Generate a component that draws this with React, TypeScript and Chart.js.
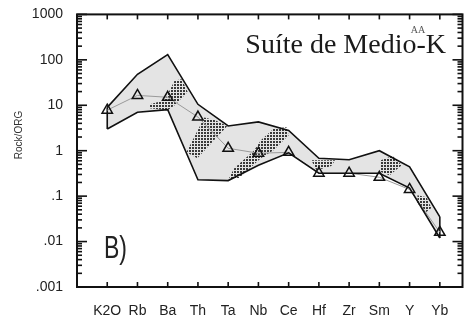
import React, { useEffect, useRef } from 'react';
import { Chart, registerables } from 'chart.js';

Chart.register(...registerables);

const categories = ['K2O', 'Rb', 'Ba', 'Th', 'Ta', 'Nb', 'Ce', 'Hf', 'Zr', 'Sm', 'Y', 'Yb'];
const sampleValues = [7.8, 16.5, 15, 5.5, 1.13, 0.88, 0.92, 0.32, 0.32, 0.26, 0.14, 0.016];
const upperEnvelope = [9, 48, 130, 10.5, 3.5, 4.3, 2.8, 0.68, 0.63, 1.0, 0.44, 0.035];
const lowerEnvelope = [3.0, 7, 8, 0.23, 0.22, 0.48, 0.9, 0.32, 0.32, 0.32, 0.15, 0.012];
const yTickLabels = ['.001', '.01', '.1', '1', '10', '100', '1000'];

// stippled zones, as [category position, value] outlines
const stipplePatches: [number, number][][] = [
  [[1.41, 8.6], [1.41, 10.5], [1.9, 12.9], [2.23, 35], [2.46, 37.5], [2.66, 19.6], [2.23, 10], [2.0, 7.8]],
  [[3.21, 5.4], [3.57, 4.7], [3.97, 3.5], [2.98, 0.68], [2.62, 0.93]],
  [[4.03, 0.25], [4.36, 0.25], [5.08, 0.68], [5.51, 1.03], [6.0, 2.2], [5.93, 3.3], [5.51, 3.1], [5.08, 1.7], [4.85, 1.0], [4.2, 0.41]],
  [[6.75, 0.62], [7.54, 0.62], [7.41, 0.46], [6.92, 0.37]],
  [[9.05, 0.62], [9.44, 0.76], [9.74, 0.48], [9.34, 0.29], [9.05, 0.34]],
  [[10.26, 0.105], [10.56, 0.095], [10.72, 0.055], [10.52, 0.043], [10.26, 0.071]],
];

const titleText = 'Suíte de Medio-K';
const superText = 'AA';
const panelLabel = 'B)';
const yAxisTitle = 'Rock/ORG';

export default function App() {
  const ref = useRef<HTMLCanvasElement>(null);

  useEffect(() => {
    document.body.style.margin = '0';
    const canvas = ref.current!;
    const ctx0 = canvas.getContext('2d')!;
    const tile = document.createElement('canvas');
    tile.width = 3;
    tile.height = 3;
    const tg = tile.getContext('2d')!;
    tg.fillStyle = '#3a3a3a';
    tg.fillRect(0, 0, 2, 2);
    const pattern = ctx0.createPattern(tile, 'repeat');

    const xy = (arr: number[]) => arr.map((v, i) => ({ x: i, y: v }));

    const decor = {
      id: 'decor',
      beforeDatasetsDraw(chart: any) {
        const { ctx, chartArea, scales } = chart;
        const xs = scales.x;
        const ys = scales.y;
        ctx.save();
        ctx.beginPath();
        ctx.rect(chartArea.left, chartArea.top, chartArea.right - chartArea.left, chartArea.bottom - chartArea.top);
        ctx.clip();
        ctx.fillStyle = pattern;
        for (const patch of stipplePatches) {
          ctx.beginPath();
          patch.forEach(([x, y], i) => {
            const px = xs.getPixelForValue(x);
            const py = ys.getPixelForValue(y);
            if (i === 0) ctx.moveTo(px, py);
            else ctx.lineTo(px, py);
          });
          ctx.closePath();
          ctx.fill();
        }
        ctx.strokeStyle = '#111';
        ctx.lineWidth = 1.6;
        const last = categories.length - 1;
        for (const i of [0, last]) {
          const px = xs.getPixelForValue(i);
          ctx.beginPath();
          ctx.moveTo(px, ys.getPixelForValue(upperEnvelope[i]));
          ctx.lineTo(px, ys.getPixelForValue(lowerEnvelope[i]));
          ctx.stroke();
        }
        ctx.restore();
      },
      afterDraw(chart: any) {
        const { ctx, chartArea, scales } = chart;
        const { left, right, top, bottom } = chartArea;
        const xs = scales.x;
        const ys = scales.y;
        ctx.save();
        ctx.strokeStyle = '#111';
        ctx.lineWidth = 2;
        ctx.strokeRect(left, top, right - left, bottom - top);
        ctx.lineWidth = 1.6;
        ctx.strokeStyle = '#111';
        const segs: number[][] = [];
        const yVals: number[] = [];
        for (let e = -3; e <= 3; e++) {
          yVals.push(Math.pow(10, e));
          if (e < 3) for (let m = 2; m <= 9; m++) yVals.push(m * Math.pow(10, e));
        }
        for (const v of yVals) {
          const py = ys.getPixelForValue(v);
          const e = Math.log10(v);
          const major = Math.abs(e - Math.round(e)) < 1e-6;
          const len = major ? 10 : 5;
          segs.push([left, py, left + len, py]);
          segs.push([right, py, right - len, py]);
        }
        for (let i = 0; i < categories.length; i++) {
          const px = xs.getPixelForValue(i);
          segs.push([px, top, px, top + 5]);
          segs.push([px, bottom, px, bottom - 5]);
        }
        for (const [x1, y1, x2, y2] of segs) {
          ctx.beginPath();
          ctx.moveTo(x1, y1);
          ctx.lineTo(x2, y2);
          ctx.stroke();
        }

        ctx.save();
        ctx.translate(19, 135);
        ctx.rotate(-Math.PI / 2);
        ctx.fillStyle = '#333';
        ctx.font = '10px "Liberation Sans"';
        ctx.textAlign = 'center';
        ctx.textBaseline = 'middle';
        ctx.fillText(yAxisTitle, 0, 0);
        ctx.restore();

        ctx.save();
        ctx.translate(104, 258);
        ctx.scale(0.72, 1);
        ctx.fillStyle = '#222';
        ctx.font = '32px "Liberation Sans"';
        ctx.textAlign = 'left';
        ctx.textBaseline = 'alphabetic';
        ctx.fillText(panelLabel, 0, 0);
        ctx.restore();

        ctx.fillStyle = '#1a1a1a';
        ctx.font = '28px "Liberation Serif"';
        ctx.textAlign = 'right';
        ctx.textBaseline = 'alphabetic';
        ctx.fillText(titleText, 446, 53);
        ctx.fillStyle = '#555';
        ctx.font = '10px "Liberation Serif"';
        ctx.textAlign = 'center';
        ctx.fillText(superText, 418, 33);
        ctx.restore();
      },
    };

    const chart = new Chart(canvas, {
      type: 'line',
      data: {
        datasets: [
          {
            data: xy(upperEnvelope),
            borderColor: '#111',
            borderWidth: 1.6,
            pointRadius: 0,
            fill: '+1',
            backgroundColor: '#e4e4e4',
          },
          {
            data: xy(lowerEnvelope),
            borderColor: '#111',
            borderWidth: 1.6,
            pointRadius: 0,
            fill: false,
          },
          {
            data: xy(sampleValues),
            borderColor: '#9a9a9a',
            borderWidth: 1,
            pointStyle: 'triangle',
            pointRadius: 6,
            pointBorderColor: '#111',
            pointBorderWidth: 1.5,
            pointBackgroundColor: 'rgba(0,0,0,0)',
            fill: false,
          },
        ],
      },
      options: {
        animation: false,
        responsive: false,
        events: [],
        layout: { padding: { top: 14, right: 4, left: 0, bottom: 0 } },
        plugins: {
          legend: { display: false },
          tooltip: { enabled: false },
          filler: { drawTime: 'beforeDatasetsDraw' },
        },
        scales: {
          x: {
            type: 'linear',
            min: -1,
            max: 11.75,
            grid: { display: false },
            border: { display: false },
            afterBuildTicks: (s: any) => {
              s.ticks = categories.map((_, i) => ({ value: i }));
            },
            afterFit: (s: any) => {
              s.height = 29;
            },
            ticks: {
              autoSkip: false,
              maxRotation: 0,
              padding: 8,
              color: '#222',
              font: { family: 'Liberation Sans', size: 14 },
              callback: (v: any) => categories[v] ?? '',
            },
          },
          y: {
            type: 'logarithmic',
            min: 0.001,
            max: 1000,
            grid: { display: false },
            border: { display: false },
            afterBuildTicks: (s: any) => {
              s.ticks = yTickLabels.map((_, i) => ({ value: Math.pow(10, i - 3), major: true }));
            },
            afterFit: (s: any) => {
              s.width = 77;
            },
            ticks: {
              autoSkip: false,
              padding: 6,
              color: '#222',
              font: { family: 'Liberation Sans', size: 14 },
              callback: (v: any) => {
                const r = Math.round(Math.log10(v));
                return yTickLabels[r + 3] ?? '';
              },
            },
          },
        },
      },
      plugins: [decor],
    } as any);

    return () => chart.destroy();
  }, []);

  return (
    <div style={{ width: 470, height: 316 }}>
      <canvas ref={ref} width={470} height={316} style={{ display: 'block' }} />
    </div>
  );
}
